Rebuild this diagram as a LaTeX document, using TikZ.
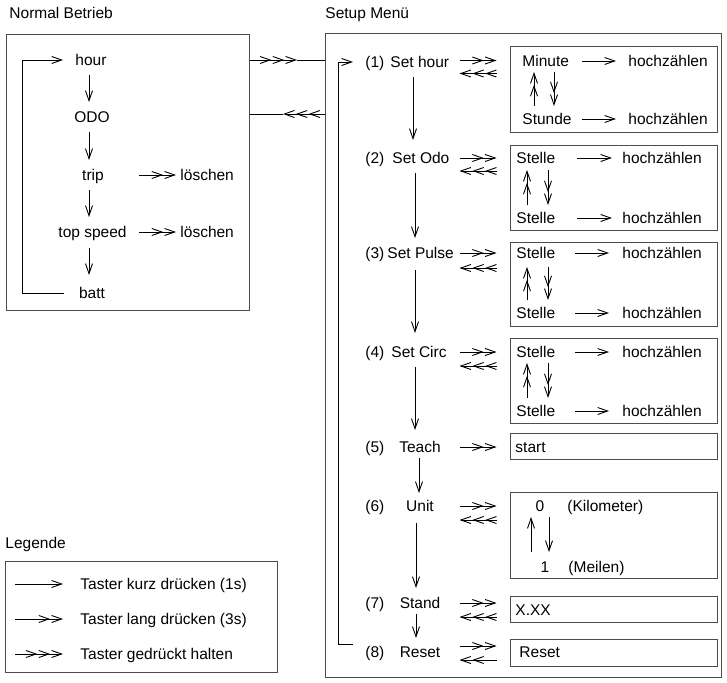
\documentclass[tikz,border=0pt]{standalone}
\usepackage{fontspec}
\setmainfont{Liberation Sans}
\usetikzlibrary{arrows.meta,calc}
\begin{document}
\begin{tikzpicture}[x=1pt,y=-1pt,line width=0.9pt,
  every node/.style={inner sep=0pt,text height=11.1pt,text depth=0pt,font=\fontsize{15.5pt}{18pt}\selectfont},
  panel/.style={draw=black!70,line width=1pt,text height=0pt},
  a1/.style={-{Straight Barb[length=10pt,width=7pt]}},
  a2/.style={-{Straight Barb[length=10pt,width=7pt,sep=1pt]Straight Barb[length=10pt,width=7pt]}},
  a3/.style={-{Straight Barb[length=10pt,width=7pt,sep=1pt]Straight Barb[length=10pt,width=7pt,sep=1pt]Straight Barb[length=10pt,width=7pt]}}]
\useasboundingbox (0,0) rectangle (727,682);

% titles
\node[anchor=west] (tNB) at (9,13) {Normal Betrieb};
\node[anchor=west] (tSM) at (325,13) {Setup Menü};
\node[anchor=west] (tLG) at (5,543) {Legende};

% panels
\node[panel,minimum width=243pt,minimum height=275pt] (nb) at (127.5,172.5) {};
\node[panel,minimum width=396pt,minimum height=643pt] (sb) at (523,355.5) {};
\node[panel,minimum width=272pt,minimum height=111pt] (lb) at (141,616.5) {};
\node[panel,minimum width=207pt,minimum height=85pt] (b1) at (613.5,89.5) {};
\node[panel,minimum width=207pt,minimum height=85pt] (b2) at (613.5,187.5) {};
\node[panel,minimum width=207pt,minimum height=84pt] (b3) at (613.5,284) {};
\node[panel,minimum width=207pt,minimum height=85pt] (b4) at (613.5,380.5) {};
\node[panel,minimum width=207pt,minimum height=26pt] (b5) at (613.5,446) {};
\node[panel,minimum width=207pt,minimum height=86pt] (b6) at (613.5,535) {};
\node[panel,minimum width=207pt,minimum height=26pt] (b7) at (613.5,609) {};
\node[panel,minimum width=207pt,minimum height=27pt] (b8) at (613.5,652.5) {};

% normal operation
\node (hour) at (91,60) {hour};
\node (odo) at (92,117) {ODO};
\node (trip) at (93,175) {trip};
\node (tops) at (92.5,232) {top speed};
\node (batt) at (92,293) {batt};
\node[anchor=west] (l1) at (180,175) {löschen};
\node[anchor=west] (l2) at (180,232) {löschen};
\draw[a1] ($(hour)+(-2,15)$) -- ($(odo)+(-3,-15)$);
\draw[a1] ($(odo)+(-3,15)$) -- ($(trip)+(-4,-15)$);
\draw[a1] ($(trip)+(-4,15)$) -- ($(tops)+(-3.5,-15)$);
\draw[a1] ($(tops)+(-3.5,16)$) -- ($(batt)+(-3,-18)$);
\draw[a2] ($(l1.west)+(-41,0)$) -- ($(l1.west)+(-4,0)$);
\draw[a2] ($(l2.west)+(-41,0)$) -- ($(l2.west)+(-4,0)$);
\coordinate (nc) at (22,60);
\draw[a1] ($(batt.west)+(-15,0)$) -| (nc) -- ($(hour.west)+(-12,0)$);

% between panels
\coordinate (t1) at (297,60);
\coordinate (t2) at (283,114);
\draw[a3] (nb.east |- t1) -- (t1);
\draw (t1) -- (sb.west |- t1);
\draw[a3] (sb.west |- t2) -- (t2);
\draw (t2) -- (nb.east |- t2);

% setup menu items
\node[anchor=west] (n1) at (365,62) {(1)};
\node[anchor=west] (s1) at (390,62) {Set hour};
\node[anchor=west] (n2) at (365,158) {(2)};
\node[anchor=west] (s2) at (392,158) {Set Odo};
\node[anchor=west] (n3) at (365,253) {(3)};
\node[anchor=west] (s3) at (387,253) {Set Pulse};
\node[anchor=west] (n4) at (365,352) {(4)};
\node[anchor=west] (s4) at (391,352) {Set Circ};
\node[anchor=west] (n5) at (365,447) {(5)};
\node (s5) at (420,447) {Teach};
\node[anchor=west] (n6) at (365,506) {(6)};
\node (s6) at (420,506) {Unit};
\node[anchor=west] (n7) at (365,603) {(7)};
\node (s7) at (420,603) {Stand};
\node[anchor=west] (n8) at (365,652) {(8)};
\node (s8) at (420,652) {Reset};

\draw[a1] ($(s1.west)+(23,15)$) -- ($(s2.west)+(21,-18)$);
\draw[a1] ($(s2.west)+(23,15)$) -- ($(s3.west)+(28,-15)$);
\draw[a1] ($(s3.west)+(28,17)$) -- ($(s4.west)+(24,-19)$);
\draw[a1] ($(s4.west)+(24,15)$) -- ($(s5)+(-5,-17)$);
\draw[a1] ($(s5)+(-1,11)$) -- ($(s6)+(-1,-13)$);
\draw[a1] ($(s6)+(-4,17)$) -- ($(s7)+(-4,-15)$);
\draw[a1] ($(s7)+(-4,11)$) -- ($(s8)+(-4,-14)$);

\coordinate (sc) at (338,62);
\draw[a1] ($(n8.west)+(-12,-8)$) -| (sc) -- ($(n1.west)+(-12,0)$);

% row arrows
\draw[a2] ($(b1.west |- s1)+(-50,-1.5)$) -- ($(b1.west |- s1)+(-13,-1.5)$);
\draw[a3] ($(b1.west |- s1)+(-13,11.5)$) -- ($(b1.west |- s1)+(-50,11.5)$);
\draw[a2] ($(b2.west |- s2)+(-50,0)$) -- ($(b2.west |- s2)+(-13,0)$);
\draw[a3] ($(b2.west |- s2)+(-13,13)$) -- ($(b2.west |- s2)+(-50,13)$);
\draw[a2] ($(b3.west |- s3)+(-50,0)$) -- ($(b3.west |- s3)+(-13,0)$);
\draw[a3] ($(b3.west |- s3)+(-13,15)$) -- ($(b3.west |- s3)+(-50,15)$);
\draw[a2] ($(b4.west |- s4)+(-50,0)$) -- ($(b4.west |- s4)+(-13,0)$);
\draw[a3] ($(b4.west |- s4)+(-13,14)$) -- ($(b4.west |- s4)+(-50,14)$);
\draw[a2] ($(b5.west |- s5)+(-50,0)$) -- ($(b5.west |- s5)+(-13,0)$);
\draw[a2] ($(b6.west |- s6)+(-50,0)$) -- ($(b6.west |- s6)+(-13,0)$);
\draw[a3] ($(b6.west |- s6)+(-13,14)$) -- ($(b6.west |- s6)+(-50,14)$);
\draw[a2] ($(b7.west |- s7)+(-50,0)$) -- ($(b7.west |- s7)+(-13,0)$);
\draw[a3] ($(b7.west |- s7)+(-13,14)$) -- ($(b7.west |- s7)+(-50,14)$);
\draw[a2] ($(b8.west |- s8)+(-50,-6)$) -- ($(b8.west |- s8)+(-13,-6)$);
\draw[a2] ($(b8.west |- s8)+(-13,8)$) -- ($(b8.west |- s8)+(-50,8)$);

% box 1
\node[anchor=west] (m1) at (522,61) {Minute};
\node[anchor=west] (h1) at (628,61) {hochzählen};
\node[anchor=west] (m2) at (522,119) {Stunde};
\node[anchor=west] (h2) at (628,119) {hochzählen};
\draw[a1] ($(h1.west)+(-46,0)$) -- ($(h1.west)+(-12,0)$);
\draw[a1] ($(h2.west)+(-46,0)$) -- ($(h2.west)+(-12,0)$);
\draw[a2] ($(m2.west)+(12,-13)$) -- ($(m1.west)+(12,11)$);
\draw[a2] ($(m1.west)+(32,11)$) -- ($(m2.west)+(32,-13)$);

% box 2
\node[anchor=west] (p1) at (516,158) {Stelle};
\node[anchor=west] (q1) at (622,158) {hochzählen};
\node[anchor=west] (p2) at (516,218) {Stelle};
\node[anchor=west] (q2) at (622,218) {hochzählen};
\draw[a1] ($(q1.west)+(-45,0)$) -- ($(q1.west)+(-10,0)$);
\draw[a1] ($(q2.west)+(-45,0)$) -- ($(q2.west)+(-10,0)$);
\draw[a2] ($(p2.west)+(11,-13)$) -- ($(p1.west)+(11,12)$);
\draw[a2] ($(p1.west)+(32,12)$) -- ($(p2.west)+(32,-13)$);

% box 3
\node[anchor=west] (p3) at (516,253) {Stelle};
\node[anchor=west] (q3) at (622,253) {hochzählen};
\node[anchor=west] (p4) at (516,313) {Stelle};
\node[anchor=west] (q4) at (622,313) {hochzählen};
\draw[a1] ($(q3.west)+(-47,0)$) -- ($(q3.west)+(-13,0)$);
\draw[a1] ($(q4.west)+(-47,0)$) -- ($(q4.west)+(-13,0)$);
\draw[a2] ($(p4.west)+(11,-13)$) -- ($(p3.west)+(11,14)$);
\draw[a2] ($(p3.west)+(32,14)$) -- ($(p4.west)+(32,-13)$);

% box 4
\node[anchor=west] (p5) at (516,352) {Stelle};
\node[anchor=west] (q5) at (622,352) {hochzählen};
\node[anchor=west] (p6) at (516,411) {Stelle};
\node[anchor=west] (q6) at (622,411) {hochzählen};
\draw[a1] ($(q5.west)+(-47,0)$) -- ($(q5.west)+(-13,0)$);
\draw[a1] ($(q6.west)+(-47,0)$) -- ($(q6.west)+(-13,0)$);
\draw[a2] ($(p6.west)+(11,-13)$) -- ($(p5.west)+(11,11)$);
\draw[a2] ($(p5.west)+(32,11)$) -- ($(p6.west)+(32,-13)$);

% box 5
\node[anchor=west] (st) at (515,447) {start};

% box 6
\node (z0) at (540,506) {0};
\node[anchor=west] (km) at (567,506) {(Kilometer)};
\node (z1) at (545,567) {1};
\node[anchor=west] (mi) at (568,567) {(Meilen)};
\draw[a1] ($(z1)+(-14,-15)$) -- ($(z0)+(-9,11)$);
\draw[a1] ($(z0)+(9,11)$) -- ($(z1)+(4,-15)$);

% box 7, 8
\node[anchor=west] (xx) at (515,610) {X.XX};
\node[anchor=west] (rs) at (519,652) {Reset};

% legend
\node[anchor=west] (g1) at (80,584) {Taster kurz drücken (1s)};
\node[anchor=west] (g2) at (80,619) {Taster lang drücken (3s)};
\node[anchor=west] (g3) at (80,654) {Taster gedrückt halten};
\draw[a1] ($(g1.west)+(-65,0)$) -- ($(g1.west)+(-17,0)$);
\draw[a2] ($(g2.west)+(-65,0)$) -- ($(g2.west)+(-17,0)$);
\draw[a3] ($(g3.west)+(-65,0)$) -- ($(g3.west)+(-17,0)$);
\end{tikzpicture}
\end{document}
